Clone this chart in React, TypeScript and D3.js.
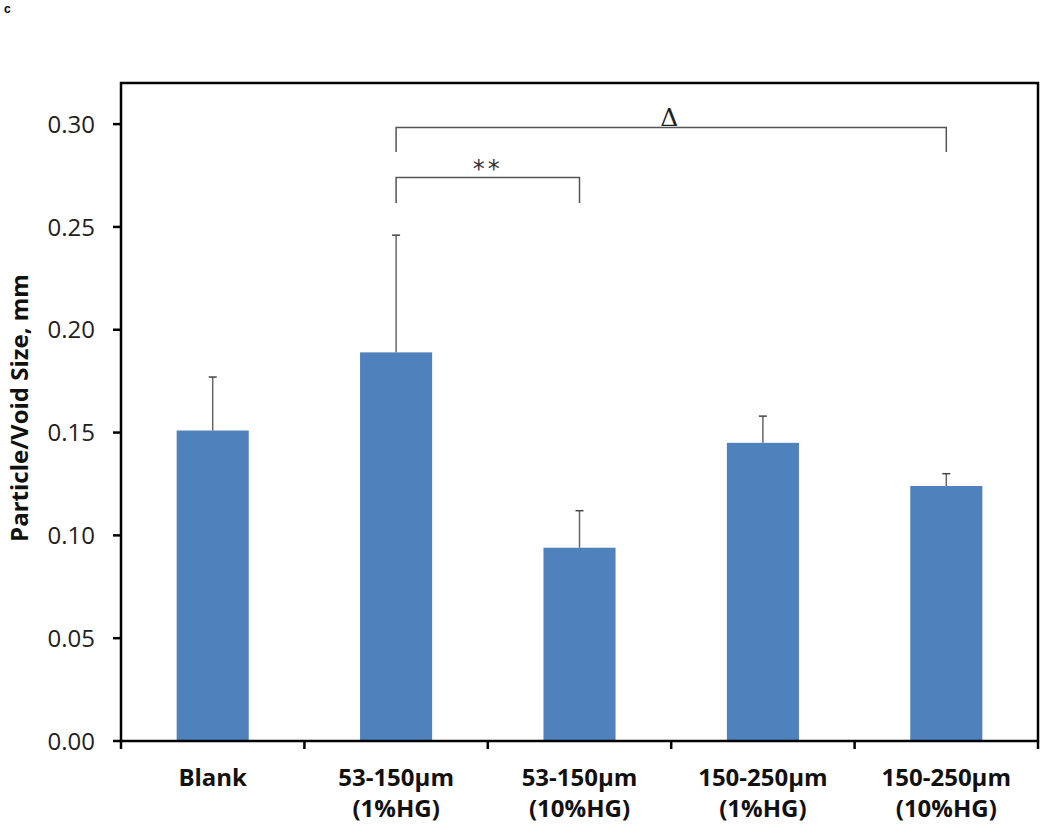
import React from "react";
import * as d3 from "d3";

const categories = ["Blank", "53-150µm|(1%HG)", "53-150µm|(10%HG)", "150-250µm|(1%HG)", "150-250µm|(10%HG)"];
const means = [0.151, 0.189, 0.094, 0.145, 0.124];
const errors = [0.026, 0.057, 0.018, 0.013, 0.006];
const yTicks = [0, 0.05, 0.1, 0.15, 0.2, 0.25, 0.3];

const W = 1050, H = 834;
const left = 121, right = 1038, top = 83, bottom = 741;
const font = "'Open Sans', sans-serif";

export default function App() {
  const x = d3.scaleBand<string>().domain(categories).range([left, right]).paddingInner(0.607).paddingOuter(0.3035);
  const y = d3.scaleLinear().domain([0, 0.32]).range([bottom, top]);
  const cx = (i: number) => (x(categories[i]) as number) + x.bandwidth() / 2;
  const step = (right - left) / categories.length;
  const bLeft = cx(1), bMid = cx(2), bRight = cx(4);
  return (
    <svg width={W} height={H} style={{ display: "block", position: "absolute", left: 0, top: 0 }} fontFamily={font}>
      <rect width={W} height={H} fill="#fff" />
      <text x={4} y={13} fontSize={12} fontWeight="bold" fontFamily="Arial, sans-serif">c</text>
      {categories.map((c, i) => (
        <g key={c}>
          <rect x={x(c)} y={y(means[i])} width={x.bandwidth()} height={bottom - y(means[i])} fill="#4f81bd" />
          <line x1={cx(i)} x2={cx(i)} y1={y(means[i])} y2={y(means[i] + errors[i])} stroke="#666" strokeWidth={1.5} />
          <line x1={cx(i) - 4} x2={cx(i) + 4} y1={y(means[i] + errors[i])} y2={y(means[i] + errors[i])} stroke="#444" strokeWidth={1.5} />
        </g>
      ))}
      <rect x={left} y={top} width={right - left} height={bottom - top} fill="none" stroke="#000" strokeWidth={2.5} />
      {yTicks.map(t => (
        <g key={t}>
          <line x1={left - 8} x2={left} y1={y(t)} y2={y(t)} stroke="#000" strokeWidth={2.5} />
          <text x={left - 26} y={y(t)} dy="0.36em" textAnchor="end" fontSize={24} fill="#222">{t.toFixed(2)}</text>
        </g>
      ))}
      {d3.range(categories.length + 1).map(i => (
        <line key={i} x1={left + i * step} x2={left + i * step} y1={bottom} y2={bottom + 8} stroke="#000" strokeWidth={2.5} />
      ))}
      {categories.map((c, i) => {
        const parts = c.split("|");
        return (
          <text key={c} x={cx(i)} textAnchor="middle" fontSize={24} fontWeight="bold" fill="#111">
            {parts.map((p, j) => (
              <tspan key={j} x={cx(i)} y={786 + j * 31}>{p}</tspan>
            ))}
          </text>
        );
      })}
      <text transform={`translate(28,408) rotate(-90)`} textAnchor="middle" fontSize={24} fontWeight="bold" fill="#111">Particle/Void Size, mm</text>
      <path d={`M${bLeft},152V127.5H${bRight}V152`} fill="none" stroke="#555" strokeWidth={1.5} />
      <path d={`M${bLeft},203V177.5H${bMid}V203`} fill="none" stroke="#555" strokeWidth={1.5} />
      <text x={(bLeft + bMid) / 2} y={177} textAnchor="middle" fontSize={24} letterSpacing={3} fill="#333" fontFamily="'DejaVu Sans', sans-serif">**</text>
      <text x={(bLeft + bRight) / 2 - 2} y={126} textAnchor="middle" fontSize={25} fill="#222" fontFamily="'DejaVu Serif', serif">Δ</text>
    </svg>
  );
}
